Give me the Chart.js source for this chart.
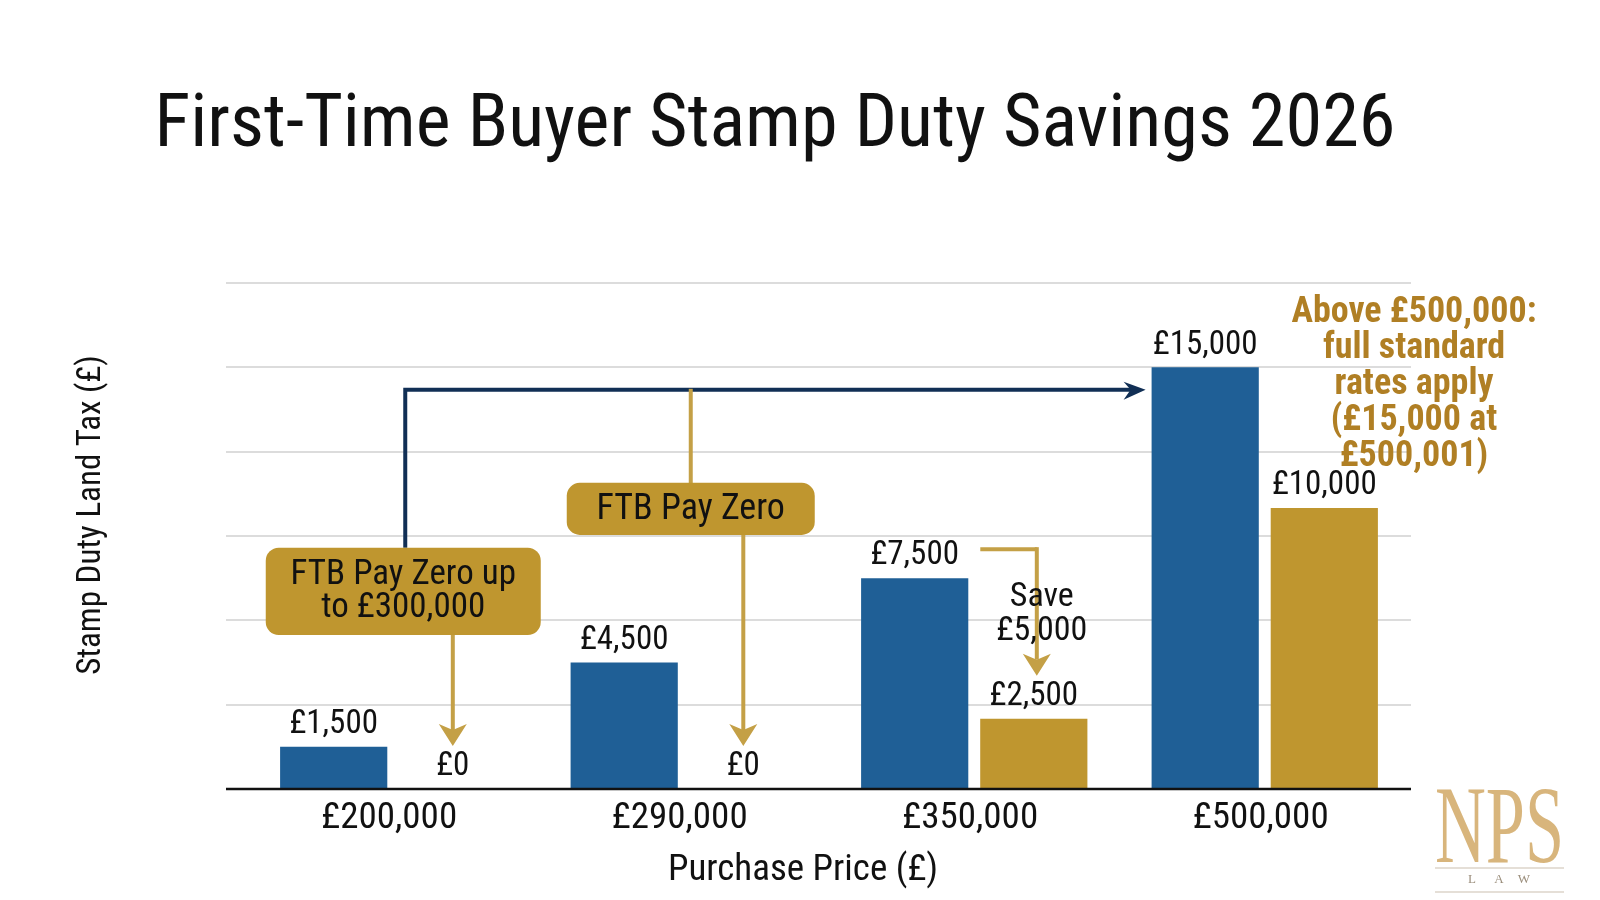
<!DOCTYPE html>
<html>
<head>
<meta charset="utf-8">
<title>First-Time Buyer Stamp Duty Savings 2026</title>
<script src="https://cdn.jsdelivr.net/npm/chart.js@4.4.1/dist/chart.umd.min.js"></script>
<style>
  html, body { margin: 0; padding: 0; background: #fff; }
</style>
</head>
<body>
<canvas id="myChart" width="1600" height="900"></canvas>
<script>
const prices = ["£200,000", "£290,000", "£350,000", "£500,000"];
const standardDuty = [1500, 4500, 7500, 15000];
const ftbDuty = [0, 0, 2500, 10000];
const dutyTicks = [0, 3000, 6000, 9000, 12000, 15000, 18000];
const seriesNames = ["Standard rates", "First-time buyer"];
const noteLines = ["Above £500,000:", "full standard", "rates apply", "(£15,000 at", "£500,001)"];

const blue = "#1f5f96";
const gold = "#bf962f";
const arrowGold = "#c4a046";
const navy = "#112f55";
const ink = "#111111";

// pick a narrow face if one is installed, otherwise squeeze Roboto a little
function fontInstalled(name) {
  const c = document.createElement("canvas").getContext("2d");
  const probe = "First-Time Buyer £200,000";
  c.font = "40px monospace";
  const base = c.measureText(probe).width;
  c.font = "40px '" + name + "', monospace";
  return c.measureText(probe).width !== base;
}
const narrow = ["Roboto Condensed", "Liberation Sans Narrow"].find(fontInstalled);
const family = narrow ? "'" + narrow + "', Roboto, sans-serif" : "Roboto, 'Noto Sans', sans-serif";
const squeeze = narrow ? 1 : 0.88;

function money(v) {
  return "£" + v.toLocaleString("en-GB");
}

function text(ctx, str, x, y, size, color, weight, sx, rot) {
  ctx.save();
  ctx.font = (weight || "400") + " " + size + "px " + family;
  ctx.fillStyle = color;
  ctx.textAlign = "center";
  ctx.textBaseline = "middle";
  ctx.translate(x, y);
  if (rot) ctx.rotate(rot);
  ctx.scale(sx || squeeze, 1);
  ctx.fillText(str, 0, 0);
  ctx.restore();
}

function arrowDown(ctx, x, y0, y1, color) {
  ctx.strokeStyle = color;
  ctx.fillStyle = color;
  ctx.lineWidth = 4;
  ctx.beginPath();
  ctx.moveTo(x, y0);
  ctx.lineTo(x, y1 - 16);
  ctx.stroke();
  ctx.beginPath();
  ctx.moveTo(x, y1);
  ctx.lineTo(x - 14, y1 - 22);
  ctx.lineTo(x, y1 - 16);
  ctx.lineTo(x + 14, y1 - 22);
  ctx.closePath();
  ctx.fill();
}

function roundBox(ctx, cx, top, bottom, w) {
  ctx.fillStyle = gold;
  ctx.beginPath();
  ctx.roundRect(cx - w / 2, top, w, bottom - top, 13);
  ctx.fill();
}

const decor = {
  id: "decor",
  beforeDatasetsDraw(chart) {
    const { ctx, chartArea: a, scales: { y } } = chart;
    ctx.save();
    ctx.strokeStyle = "#dcdcdc";
    ctx.lineWidth = 2;
    dutyTicks.slice(1).forEach((v) => {
      const py = Math.round(y.getPixelForValue(v));
      ctx.beginPath();
      ctx.moveTo(a.left - 22, py);
      ctx.lineTo(a.right + 1, py);
      ctx.stroke();
    });
    ctx.restore();
  },
  afterDatasetsDraw(chart) {
    const { ctx, chartArea: a, scales: { x, y } } = chart;
    const std = chart.getDatasetMeta(0).data;
    const ftb = chart.getDatasetMeta(1).data;
    const base = y.getPixelForValue(0);
    ctx.save();

    // axis base line
    ctx.strokeStyle = ink;
    ctx.lineWidth = 2.5;
    ctx.beginPath();
    ctx.moveTo(a.left - 22, base);
    ctx.lineTo(a.right + 1, base);
    ctx.stroke();

    // category labels and axis titles
    prices.forEach((p, i) => text(ctx, p, x.getPixelForValue(i) - 4, base + 30, 37, ink));
    text(ctx, "Purchase Price (£)", 803, base + 82, 37, ink);
    text(ctx, "Stamp Duty Land Tax (£)", 92, 515, 33, ink, "400", null, -Math.PI / 2);

    // value labels over every bar
    [standardDuty, ftbDuty].forEach((vals, d) => {
      const bars = chart.getDatasetMeta(d).data;
      bars.forEach((bar, i) => text(ctx, money(vals[i]), bar.x, bar.y - 22, 33, ink));
    });

    // navy connector from the first box to the £500k bar
    const box1X = x.getPixelForValue(0) + 10;
    const box1Top = y.getPixelForValue(8580);
    const box1Bottom = y.getPixelForValue(5480);
    const connY = y.getPixelForValue(14200);
    const tipX = std[3].x - std[3].width / 2 - 6;
    ctx.strokeStyle = navy;
    ctx.fillStyle = navy;
    ctx.lineWidth = 4;
    ctx.beginPath();
    ctx.moveTo(box1X + 2, box1Top);
    ctx.lineTo(box1X + 2, connY);
    ctx.lineTo(tipX - 12, connY);
    ctx.stroke();
    ctx.beginPath();
    ctx.moveTo(tipX, connY);
    ctx.lineTo(tipX - 22, connY - 8);
    ctx.lineTo(tipX - 15, connY);
    ctx.lineTo(tipX - 22, connY + 10);
    ctx.closePath();
    ctx.fill();

    // box 1 and its arrow to £0
    arrowDown(ctx, ftb[0].x, box1Bottom - 2, ftb[0].y - 43, arrowGold);
    roundBox(ctx, box1X, box1Top, box1Bottom, 275);
    text(ctx, "FTB Pay Zero up", box1X, box1Top + 27, 35, ink);
    text(ctx, "to £300,000", box1X, box1Top + 60, 35, ink);

    // box 2 hanging from the connector
    const box2X = x.getPixelForValue(1) + 7;
    const box2Top = y.getPixelForValue(10890);
    const box2Bottom = y.getPixelForValue(9040);
    ctx.strokeStyle = arrowGold;
    ctx.lineWidth = 4;
    ctx.beginPath();
    ctx.moveTo(box2X, connY - 1);
    ctx.lineTo(box2X, box2Top + 2);
    ctx.stroke();
    arrowDown(ctx, ftb[1].x, box2Bottom - 2, ftb[1].y - 43, arrowGold);
    roundBox(ctx, box2X, box2Top, box2Bottom, 248);
    text(ctx, "FTB Pay Zero", box2X, (box2Top + box2Bottom) / 2 + 1, 36, ink);

    // saving elbow at £350k
    const elbowY = std[2].y - 29;
    const elbowX = ftb[2].x + 3;
    const elbowTip = ftb[2].y - 43;
    ctx.strokeStyle = arrowGold;
    ctx.lineWidth = 4;
    ctx.beginPath();
    ctx.moveTo(std[2].x + std[2].width / 2 + 12, elbowY);
    ctx.lineTo(elbowX, elbowY);
    ctx.stroke();
    arrowDown(ctx, elbowX, elbowY - 2, elbowTip, arrowGold);
    const saveY = elbowY + 0.38 * (elbowTip - elbowY);
    text(ctx, "Save", elbowX + 5, saveY, 34, ink);
    text(ctx, money(standardDuty[2] - ftbDuty[2]), elbowX + 5, saveY + 34, 34, ink);

    // note on the right
    noteLines.forEach((line, i) =>
      text(ctx, line, a.right + 4, a.top + 30 + i * 36, 36, "#b07f24", "700"));

    // title
    const title = "First-Time Buyer Stamp Duty Savings 2026";
    ctx.font = "400 74px " + family;
    const tw = ctx.measureText(title).width;
    text(ctx, title, 775, 127, 74, ink, "400", 1241 / tw);

    // NPS LAW mark
    ctx.font = "400 110px 'Liberation Serif', 'DejaVu Serif', serif";
    const lw = ctx.measureText("NPS").width;
    const grad = ctx.createLinearGradient(1435, 788, 1564, 862);
    grad.addColorStop(0, "#d8b57c");
    grad.addColorStop(0.5, "#c09155");
    grad.addColorStop(1, "#9c6d36");
    ctx.save();
    ctx.translate(1435, 862);
    ctx.scale(129 / lw, 1);
    ctx.fillStyle = grad;
    ctx.textAlign = "left";
    ctx.textBaseline = "alphabetic";
    ctx.fillText("NPS", 0, 0);
    ctx.restore();
    ctx.strokeStyle = "#dcd5ca";
    ctx.lineWidth = 1.5;
    [868, 892].forEach((ly) => {
      ctx.beginPath();
      ctx.moveTo(1435, ly);
      ctx.lineTo(1564, ly);
      ctx.stroke();
    });
    ctx.font = "400 13px 'Liberation Serif', 'DejaVu Serif', serif";
    ctx.fillStyle = "#9b8e7c";
    ctx.textAlign = "center";
    ctx.textBaseline = "middle";
    [["L", 1472], ["A", 1499], ["W", 1524]].forEach(([ch, lx]) => ctx.fillText(ch, lx, 880));

    ctx.restore();
  },
};

const ctx = document.getElementById("myChart");

const chart = new Chart(ctx, {
  type: "bar",
  data: {
    labels: prices,
    datasets: [
      {
        label: seriesNames[0],
        data: standardDuty,
        backgroundColor: blue,
        categoryPercentage: 0.82,
        barPercentage: 0.9,
      },
      {
        label: seriesNames[1],
        data: ftbDuty,
        backgroundColor: gold,
        categoryPercentage: 0.82,
        barPercentage: 0.9,
      },
    ],
  },
  options: {
    responsive: false,
    animation: false,
    devicePixelRatio: 1,
    layout: {
      padding: { top: 283, right: 190, bottom: 0, left: 0 },
    },
    plugins: {
      legend: { display: false },
      tooltip: { enabled: false },
    },
    scales: {
      x: {
        grid: { display: false, drawTicks: false },
        border: { display: false },
        ticks: { display: false },
        afterFit: (scale) => {
          scale.height = 111;
        },
      },
      y: {
        min: 0,
        max: 18000,
        afterBuildTicks: (scale) => {
          scale.ticks = dutyTicks.map((v) => ({ value: v }));
        },
        ticks: { display: false },
        grid: { display: false },
        border: { display: false },
        afterFit: (scale) => {
          scale.width = 248;
        },
      },
    },
  },
  plugins: [decor],
});
</script>
</body>
</html>
